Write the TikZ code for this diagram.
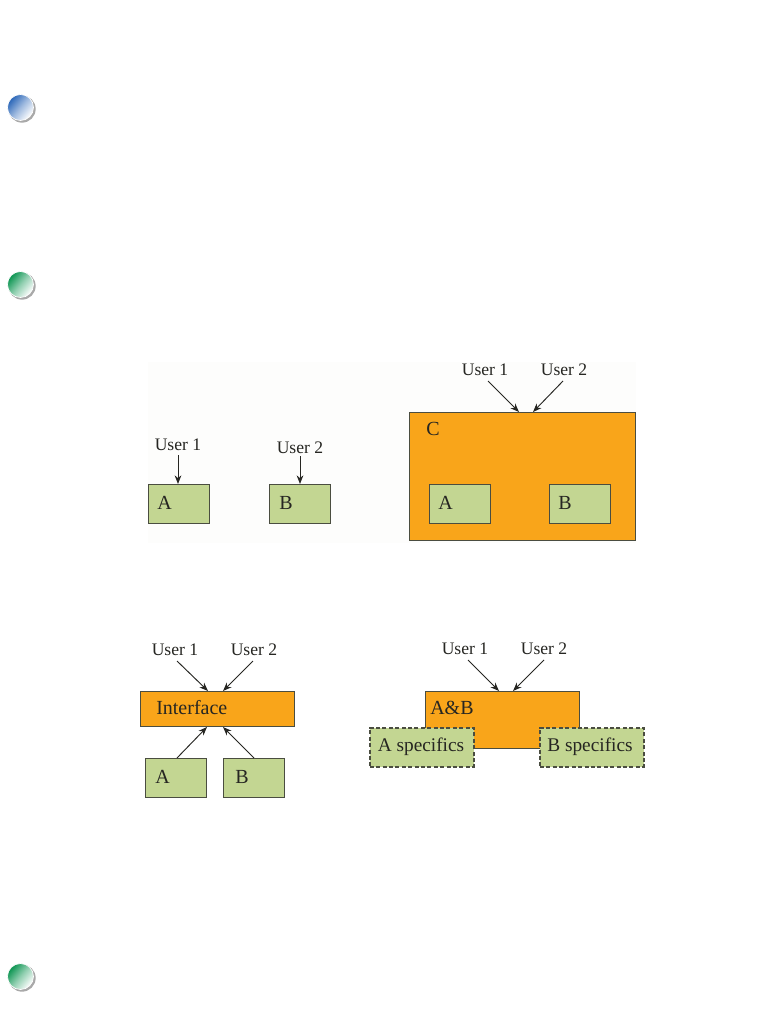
\documentclass[tikz,border=0pt]{standalone}
\usepackage{fontspec}
\setmainfont{Liberation Serif}
\usetikzlibrary{arrows.meta}
\definecolor{boxgreen}{HTML}{C3D692}
\definecolor{boxorange}{HTML}{F9A51A}
\definecolor{edgegray}{HTML}{4A4D40}
\definecolor{inkc}{HTML}{262622}
\definecolor{panelc}{HTML}{FDFDFC}
\definecolor{ballblue}{HTML}{2A66B8}
\definecolor{ballgreen}{HTML}{0A9450}
\definecolor{shadowc}{HTML}{A9A9A9}
\tikzset{
  x=0.75pt,y=-0.75pt,
  gbox/.style={draw=edgegray,line width=1pt,fill=boxgreen,inner sep=0pt},
  obox/.style={draw=edgegray,line width=0.9pt,fill=boxorange,inner sep=0pt},
  dbox/.style={gbox,line width=1.2pt,dash pattern=on 3pt off 1.8pt},
  lab/.style={inner sep=0pt,text=inkc,font=\fontsize{13.2}{13.2}\selectfont},
  big/.style={inner sep=0pt,text=inkc,font=\fontsize{15}{15}\selectfont},
  spec/.style={inner sep=0pt,text=inkc,font=\fontsize{14.5}{14.5}\selectfont},
  arr/.style={draw=inkc,line width=0.7pt,-{Stealth[length=6.5pt,width=5pt]}},
  ball/.style={circle,minimum size=19.5pt,inner sep=0pt,draw=white,line width=0.5pt,
     top color=#1,bottom color=white,middle color=#1!45!white,shading angle=50},
  shade disc/.style={circle,minimum size=20.5pt,inner sep=0pt,fill=shadowc}
}
\newcommand{\boxat}[5]{\node[#1,anchor=north west,minimum width=#4*0.75pt,minimum height=#5*0.75pt] (#2) at #3 {}; }
\begin{document}
\begin{tikzpicture}
\useasboundingbox (0,0) rectangle (782,1012);
\fill[white] (0,0) rectangle (782,1012);
\fill[panelc] (148,362) rectangle (636,543);

% bullets
\node[shade disc] (s1b) at (22,109) {};
\node[shade disc] (s2b) at (22,286) {};
\node[shade disc] (s3b) at (22,978) {};
\node[ball=ballblue] (b1) at (20.5,107.5) {};
\node[ball=ballgreen] (b2) at (20.5,284.5) {};
\node[ball=ballgreen] (b3) at (20.5,976.5) {};

% top left
\boxat{gbox}{a1}{(148,484)}{61}{39}
\boxat{gbox}{b1x}{(269,484)}{61}{39}
\node[big,anchor=base west] (ta1) at (157,509) {A};
\node[big,anchor=base west] (tb1) at (279,509) {B};
\node[lab,anchor=base] (u1a) at (178,450) {User 1};
\node[lab,anchor=base] (u2a) at (300,453) {User 2};
\coordinate (s1) at (178,455);
\coordinate (s2) at (300,456);
\draw[arr] (s1) -- (a1.north -| s1);
\draw[arr] (s2) -- (b1x.north -| s2);

% top right
\boxat{obox}{c}{(409,412)}{226}{128}
\boxat{gbox}{a2}{(429,484)}{61}{39}
\boxat{gbox}{b2x}{(549,484)}{61}{39}
\node[big,anchor=base west] (tc) at (426,435) {C};
\node[big,anchor=base west] (ta2) at (438,509) {A};
\node[big,anchor=base west] (tb2) at (558,509) {B};
\node[lab,anchor=base] (u1b) at (485,375) {User 1};
\node[lab,anchor=base] (u2b) at (564,375) {User 2};
\coordinate (s3) at (488,381);
\coordinate (e3) at (519,412);
\coordinate (s4) at (563,381);
\coordinate (e4) at (533,412);
\draw[arr] (s3) -- (e3);
\draw[arr] (s4) -- (e4);

% bottom left
\boxat{obox}{i}{(140,691)}{154}{35}
\boxat{gbox}{a3}{(145,758)}{61}{39}
\boxat{gbox}{b3x}{(223,758)}{61}{39}
\node[big,anchor=base west] (ti) at (156,714) {Interface};
\node[big,anchor=base west] (ta3) at (155,783) {A};
\node[big,anchor=base west] (tb3) at (235,783) {B};
\node[lab,anchor=base] (u1c) at (175,655) {User 1};
\node[lab,anchor=base] (u2c) at (254,655) {User 2};
\coordinate (s5) at (177,661);
\coordinate (e5) at (208,691);
\coordinate (s6) at (253,661);
\coordinate (e6) at (223,691);
\coordinate (s7) at (177,758);
\coordinate (e7) at (207,727);
\coordinate (s8) at (254,758);
\coordinate (e8) at (223,727);
\draw[arr] (s5) -- (e5);
\draw[arr] (s6) -- (e6);
\draw[arr] (s7) -- (e7);
\draw[arr] (s8) -- (e8);

% bottom right
\boxat{obox}{ab}{(425,691)}{154}{57}
\node[big,anchor=base west] (tab) at (430,714) {A\&B};
\boxat{dbox}{as}{(369,727)}{104}{39}
\boxat{dbox}{bs}{(539,727)}{104}{39}
\node[spec,anchor=base] (tas) at (421,751) {A specifics};
\node[spec,anchor=base] (tbs) at (590,751) {B specifics};
\node[lab,anchor=base] (u1d) at (465,654) {User 1};
\node[lab,anchor=base] (u2d) at (544,654) {User 2};
\coordinate (s9) at (468,660);
\coordinate (e9) at (499,691);
\coordinate (s10) at (544,660);
\coordinate (e10) at (513,691);
\draw[arr] (s9) -- (e9);
\draw[arr] (s10) -- (e10);
\end{tikzpicture}
\end{document}
